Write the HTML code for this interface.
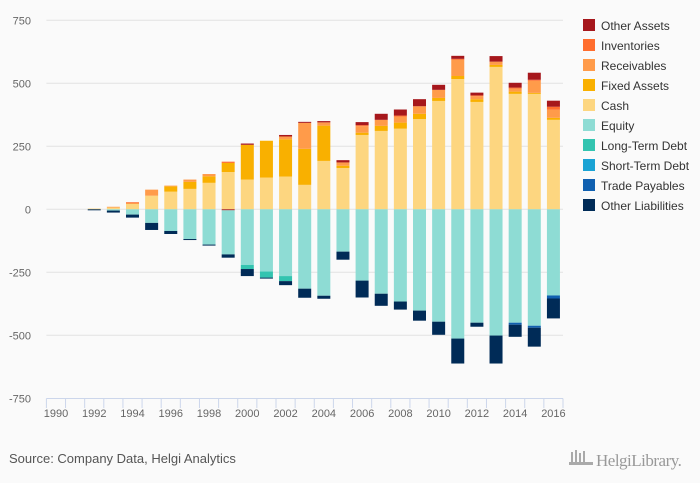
<!DOCTYPE html>
<html><head><meta charset="utf-8"><style>
body{margin:0;background:#fafafa;}
svg{display:block;font-family:"Liberation Sans",sans-serif;}
</style></head><body>
<svg id="chart" width="700" height="483">
<rect width="700" height="483" fill="#fafafa"/>
<g id="grid"></g><g id="bars"></g><g id="axes"></g><g id="legend"></g>
<text x="9" y="463" font-size="13" fill="#555">Source: Company Data, Helgi Analytics</text>
<g>
<g fill="#aaa"><rect x="571" y="452" width="2" height="10"/><rect x="575" y="450" width="2" height="12"/><rect x="579" y="453" width="2" height="9"/><rect x="583" y="451" width="2" height="11"/><rect x="569" y="462" width="24" height="3"/></g>
<text x="596" y="466" font-size="17" fill="#999" font-family="Liberation Serif,serif" letter-spacing="-0.5">HelgiLibrary.</text>
</g>
</svg>
<script>
const years=[1990,1991,1992,1993,1994,1995,1996,1997,1998,1999,2000,2001,2002,2003,2004,2005,2006,2007,2008,2009,2010,2011,2012,2013,2014,2015,2016];
const cash=[0,0,3,7,21,54,70,81,105,148,118,126,130,97,192,164,295,311,320,358,430,517,426,565,458,458,355];
const fixedAssets=[0,0,0,0,0,0,21,28,26,36,138,146,148,143,140,9,9,20,24,21,12,12,11,8,9,4,8];
const receivables=[0,0,0,3,4,24,3,9,9,0,0,0,11,103,13,13,26,24,24,30,32,64,12,13,12,48,32];
const inventories=[0,0,0,0,3,0,0,0,0,5,0,0,0,0,0,0,4,0,4,0,0,4,3,0,4,4,12];
const otherAssets=[0,0,0,0,0,0,0,0,0,-4,5,0,6,4,5,9,12,24,24,28,20,12,11,22,19,28,24];
const equity=[0,0,0,-5,-21,-54,-86,-118,-140,-175,-221,-247,-265,-315,-343,-168,-283,-335,-366,-402,-446,-513,-450,-501,-450,-462,-342];
const longTermDebt=[0,0,0,0,0,0,0,0,0,0,-16,-24,-20,0,0,0,0,0,0,0,0,0,0,0,0,0,0];
const shortTermDebt=[0,0,0,0,0,0,0,0,0,0,0,0,0,0,0,0,0,0,0,0,0,0,0,0,0,0,0];
const tradePayables=[0,0,0,0,0,0,0,0,0,0,0,0,0,0,0,0,0,0,0,0,0,0,0,0,-8,-8,-12];
const otherLiabilities=[0,0,-4,-8,-12,-28,-12,-4,-4,-13,-28,-4,-16,-36,-12,-32,-67,-48,-32,-40,-52,-99,-16,-111,-48,-75,-79];
const yTicks=[750,500,250,0,-250,-500,-750];
const seriesNames=["Other Assets","Inventories","Receivables","Fixed Assets","Cash","Equity","Long-Term Debt","Short-Term Debt","Trade Payables","Other Liabilities"];

const NS="http://www.w3.org/2000/svg";
const X0=46.4,X1=563,Y0=209.3,PXU=63/250;
const step=(X1-X0)/years.length;
const xS=i=>X0+step*i+step/2;
const yS=v=>Y0-v*PXU;
function mk(t,a,p){const e=document.createElementNS(NS,t);for(const k in a)e.setAttribute(k,a[k]);p.appendChild(e);return e;}
const grid=document.getElementById('grid'),bars=document.getElementById('bars'),axes=document.getElementById('axes'),legend=document.getElementById('legend');
yTicks.forEach(v=>{
  if(v!==-750){const l=mk('line',{x1:X0,x2:X1,y1:yS(v),y2:yS(v),stroke:'#e2e2e2','stroke-width':1},grid);
  
  }
  const t=mk('text',{x:31,y:yS(v)+4,'font-size':11,fill:'#666','text-anchor':'end'},axes);t.textContent=v;
  
  
});
const colors={"Other Assets":"#a6171c","Inventories":"#ff6d2e","Receivables":"#ff9b4a","Fixed Assets":"#f9b000","Cash":"#fdd680","Equity":"#8edcd4","Long-Term Debt":"#33c4b0","Short-Term Debt":"#1aa3d4","Trade Payables":"#1060b0","Other Liabilities":"#002b57"};
const stackOrder=[["Cash",cash],["Fixed Assets",fixedAssets],["Receivables",receivables],["Inventories",inventories],["Other Assets",otherAssets],["Equity",equity],["Long-Term Debt",longTermDebt],["Short-Term Debt",shortTermDebt],["Trade Payables",tradePayables],["Other Liabilities",otherLiabilities]];
const bw=13;
years.forEach((yr,i)=>{
  let pos=0,neg=0;
  stackOrder.forEach(([name,arr])=>{
    const v=arr[i];if(!v)return;
    let a,b;
    if(v>0){a=pos;b=pos+v;pos=b;}else{a=neg;b=neg+v;neg=b;}
    const top=yS(Math.max(a,b)),h=Math.abs(yS(a)-yS(b));
    const r=mk('rect',{x:xS(i)-bw/2,y:top,width:bw,height:h,fill:colors[name]},bars);
    
    
  });
});
const ax=mk('line',{x1:X0,x2:X1,y1:398.5,y2:398.5,stroke:'#ccd6eb','stroke-width':1},axes);


for(let k=0;k<=years.length;k++){
  const x=X0+step*k;
  const tk=mk('line',{x1:x,x2:x,y1:398.5,y2:408,stroke:'#ccd6eb','stroke-width':1},axes);
  
  
}
years.forEach((yr,i)=>{if(yr%2)return;
  const t=mk('text',{x:xS(i),y:417,'font-size':11,fill:'#666','text-anchor':'middle'},axes);t.textContent=yr;
  
  
});
seriesNames.forEach((n,j)=>{
  const g=mk('g',{},legend);
  
  
  mk('rect',{x:583,y:19+j*20,width:12,height:12,fill:colors[n]},g);
  const t=mk('text',{x:601,y:30+j*20,'font-size':12,fill:'#333'},g);t.textContent=n;
});
</script>
</body></html>
